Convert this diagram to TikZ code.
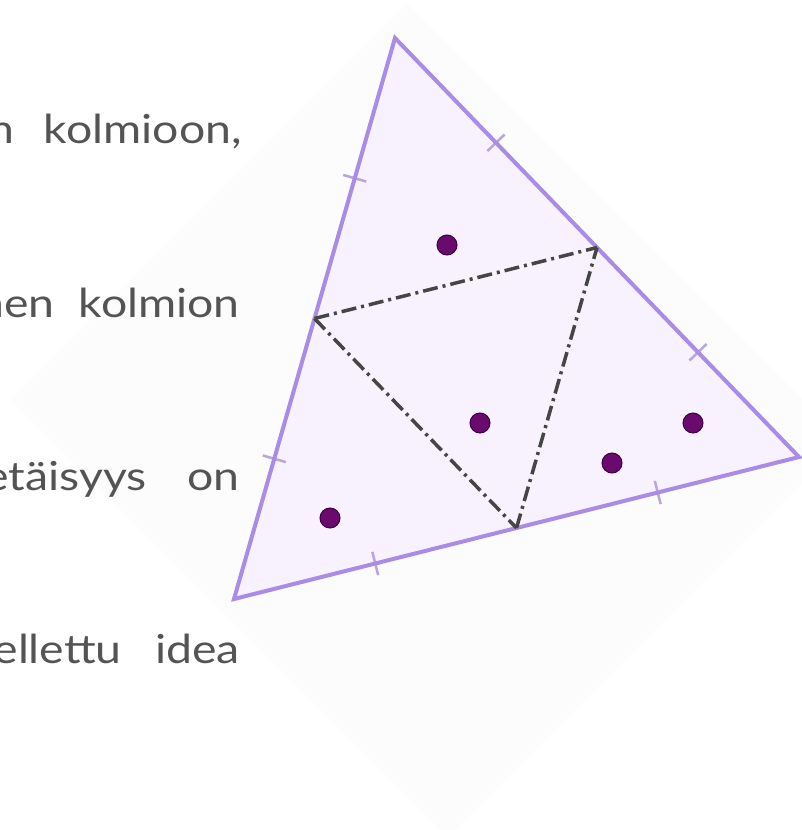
\documentclass[tikz,border=0pt]{standalone}
\usepackage{fontspec}
\setmainfont{Lato}[FakeStretch=1.16]
\usetikzlibrary{calc}
\definecolor{txtgray}{HTML}{545454}
\definecolor{edgepurple}{HTML}{A98BE8}
\definecolor{trifill}{HTML}{F7F2FD}
\definecolor{tickcol}{HTML}{B8A6DA}
\definecolor{dotfill}{HTML}{6A0A6E}
\definecolor{dotedge}{HTML}{3A0040}
\definecolor{bgdia}{HTML}{FCFCFC}
\definecolor{medial}{HTML}{454545}
\tikzset{
  wordtxt/.style={text=txtgray, font=\fontsize{40}{48}\selectfont, inner sep=0pt},
  triedge/.style={draw=edgepurple, line width=4pt, line join=miter},
  tickmark/.style={draw=tickcol, line width=2.5pt},
  medialline/.style={draw=medial, line width=3.5pt, dash pattern=on 15pt off 5pt on 3pt off 5pt},
  dotnode/.style={circle, fill=dotfill, draw=dotedge, line width=1pt, minimum size=20pt, inner sep=0pt}
}
\begin{document}
\begin{tikzpicture}[x=1pt,y=-1pt]
\useasboundingbox (0,0) rectangle (802,830);
% faint background diamond
\fill[bgdia] (407,3) -- (845,441) -- (448,838) -- (10,400) -- cycle;
% text fragments
\node[wordtxt, anchor=base east] (w1a) at (15,143) {n};
\node[wordtxt, anchor=base east] (w1b) at (242,143) {kolmioon,};
\node[wordtxt, anchor=base east] (w2a) at (55,317) {nen};
\node[wordtxt, anchor=base east] (w2b) at (240,317) {kolmion};
\node[wordtxt, anchor=base east] (w3a) at (147,490) {etäisyys};
\node[wordtxt, anchor=base east] (w3b) at (240,490) {on};
\node[wordtxt, anchor=base east] (w4a) at (122,663) {ellettu};
\node[wordtxt, anchor=base east] (w4b) at (240,663) {idea};
% triangle
\coordinate (A) at (395,38);
\coordinate (B) at (234,599);
\coordinate (C) at (799,457);
\fill[trifill] (A) -- (B) -- (C) -- cycle;
% tick marks
\foreach \p/\q [count=\i] in {A/B, B/A, A/C, C/A, B/C, C/B}{
  \coordinate (t\i) at ($(\p)!0.25!(\q)$);
  \draw[tickmark] ($(t\i)!12pt!90:(\q)$) -- ($(t\i)!12pt!-90:(\q)$);
}
\draw[triedge] (A) -- (B) -- (C) -- cycle;
% medial triangle
\coordinate (Mab) at ($(A)!0.5!(B)$);
\coordinate (Mac) at ($(A)!0.5!(C)$);
\coordinate (Mbc) at ($(B)!0.5!(C)$);
\draw[medialline] (Mab) -- (Mac);
\draw[medialline] (Mab) -- (Mbc);
\draw[medialline] (Mbc) -- (Mac);
% dots
\node[dotnode] (d1) at (447,245) {};
\node[dotnode] (d2) at (480,423) {};
\node[dotnode] (d3) at (330,518) {};
\node[dotnode] (d4) at (612,463) {};
\node[dotnode] (d5) at (693,423) {};
\end{tikzpicture}
\end{document}
